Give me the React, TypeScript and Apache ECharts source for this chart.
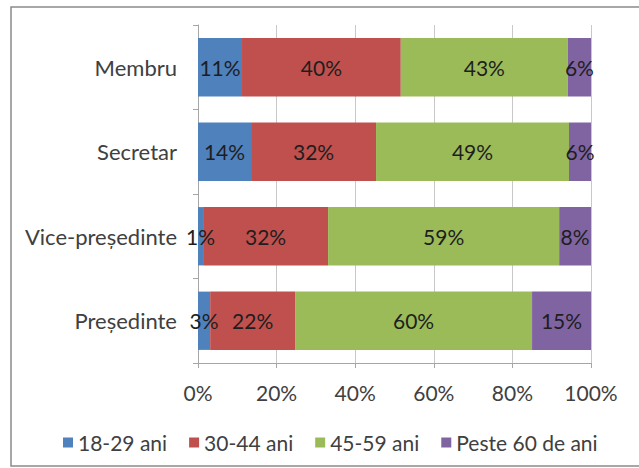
import React, { useEffect, useRef } from "react";
import * as echarts from "echarts";

const categories = ["Președinte", "Vice-președinte", "Secretar", "Membru"];
const seriesNames = ["18-29 ani", "30-44 ani", "45-59 ani", "Peste 60 de ani"];
const age18to29 = [3.1, 1.3, 13.5, 11.2];
const age30to44 = [21.6, 31.8, 31.8, 40.4];
const age45to59 = [60.3, 58.8, 49.1, 42.5];
const age60plus = [15.0, 8.1, 5.6, 5.9];
const xTicks = [0, 20, 40, 60, 80, 100];
const colors = ["#4F81BD", "#C0504D", "#9BBB59", "#8064A2"];

const FONT = "Lato";

export default function App() {
  const ref = useRef<HTMLDivElement>(null);
  useEffect(() => {
    if (!ref.current) return;
    const chart = echarts.init(ref.current, null, { renderer: "svg" });
    const data = [age18to29, age30to44, age45to59, age60plus];
    chart.setOption({
      animation: false,
      textStyle: { fontFamily: FONT },
      graphic: [
        {
          type: "rect",
          shape: { x: 11, y: 7, width: 700, height: 459 },
          style: { fill: "none", stroke: "#8a8a8a", lineWidth: 1.5 },
          silent: true,
        },
      ],
      grid: { left: 198, right: 48, top: 25, bottom: 105 },
      legend: {
        data: seriesNames,
        left: 58,
        top: 427,
        itemWidth: 10,
        itemHeight: 10,
        itemGap: 22,
        icon: "rect",
        textStyle: { fontSize: 21, color: "#404040", fontFamily: FONT },
      },
      xAxis: {
        type: "value",
        min: xTicks[0],
        max: xTicks[xTicks.length - 1],
        interval: 20,
        axisLine: { show: true, lineStyle: { color: "#a6a6a6" } },
        axisTick: { show: true, length: 5, lineStyle: { color: "#a6a6a6" } },
        splitLine: { show: true, lineStyle: { color: "#c8c8c8" } },
        axisLabel: {
          fontSize: 21,
          color: "#404040",
          margin: 19,
          formatter: (v: number) => v + "%",
        },
      },
      yAxis: {
        type: "category",
        data: categories,
        axisLine: { show: true, lineStyle: { color: "#a6a6a6" } },
        axisTick: { show: true, length: 5, alignWithLabel: false, lineStyle: { color: "#a6a6a6" } },
        axisLabel: { fontSize: 22, color: "#404040", margin: 21 },
      },
      series: seriesNames.map((name, i) => ({
        name,
        type: "bar",
        stack: "total",
        barCategoryGap: "31%",
        itemStyle: { color: colors[i] },
        label: {
          show: true,
          position: "inside",
          fontSize: 21,
          color: "#1e1e1e",
          fontFamily: FONT,
          formatter: (p: any) => Math.round(p.value) + "%",
        },
        data: data[i],
      })),
    });
    return () => chart.dispose();
  }, []);
  return (
    <div
      ref={ref}
      style={{ position: "fixed", left: 0, top: 0, width: 639, height: 468, background: "#fff" }}
    />
  );
}
